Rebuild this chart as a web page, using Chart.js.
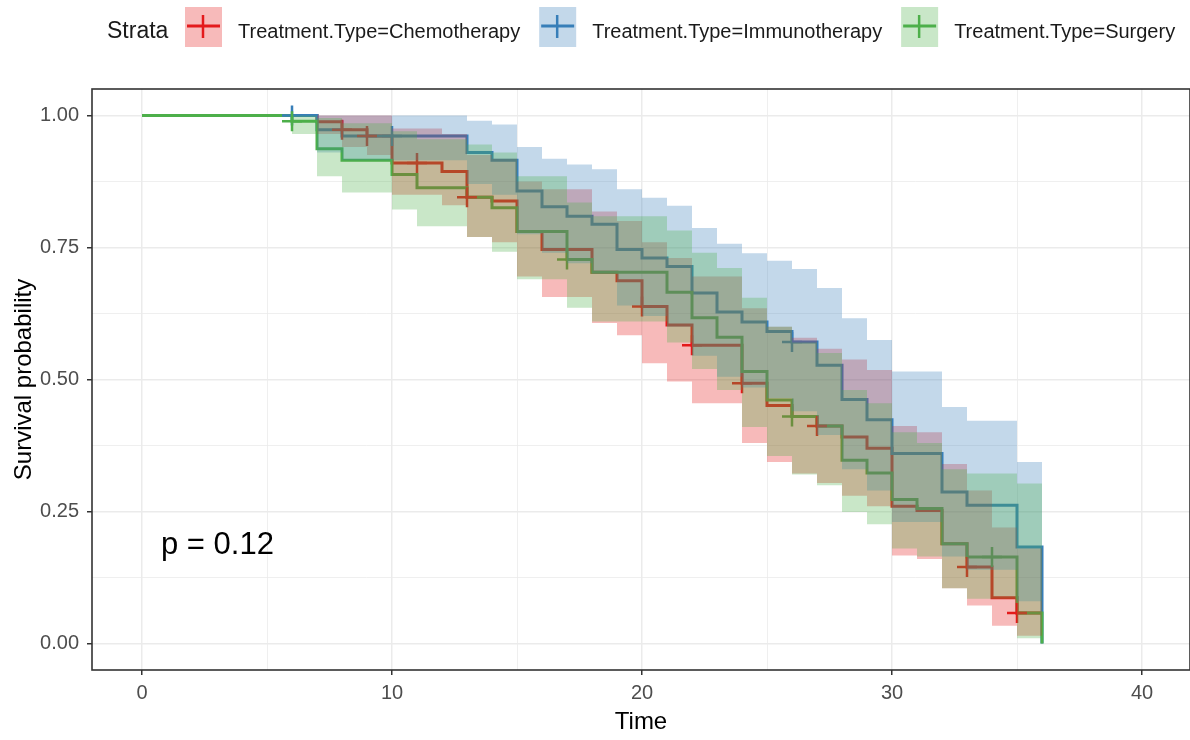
<!DOCTYPE html>
<html>
<head>
<meta charset="utf-8">
<script src="https://cdn.jsdelivr.net/npm/chart.js@4.4.1/dist/chart.umd.min.js"></script>
<style>
  html, body { margin: 0; padding: 0; background: #fff; }
  #km { display: block; }
</style>
</head>
<body>
<canvas id="km" width="1190" height="740"></canvas>
<script>
const strata = ["Treatment.Type=Chemotherapy", "Treatment.Type=Immunotherapy", "Treatment.Type=Surgery"];
const colors = ["#E41A1C", "#377EB8", "#4DAF4A"];
const xTicks = [0, 5, 10, 15, 20, 25, 30, 35, 40];
const yTicks = [0, 0.125, 0.25, 0.375, 0.5, 0.625, 0.75, 0.875, 1];
const pText = "p = 0.12";

// Chemotherapy
const chemoTime  = [0, 7, 8, 9, 10, 12, 13, 14, 15, 16, 18, 19, 20, 21, 22, 24, 25, 26, 27, 28, 29, 30, 31, 32, 33, 34, 35, 36];
const chemoSurv  = [1, .988, .973, .961, .91, .894, .845, .838, .78, .746, .703, .687, .638, .603, .565, .493, .451, .43, .412, .391, .37, .26, .252, .189, .145, .087, .058, .058];
const chemoUpper = [1, 1, 1, 1, .975, .965, .925, .918, .875, .86, .818, .80, .76, .73, .695, .635, .60, .579, .558, .538, .518, .412, .40, .34, .29, .22, .18, .18];
const chemoLower = [1, .965, .94, .925, .85, .83, .77, .76, .695, .656, .607, .584, .531, .496, .455, .38, .344, .322, .304, .28, .26, .167, .16, .105, .072, .034, .015, .015];
const chemoCensor = [8, 9, 11, 13, 20, 22, 24, 27, 33, 35];

// Immunotherapy
const immunoTime  = [0, 7, 8, 13, 14, 15, 16, 17, 18, 19, 20, 21, 22, 23, 24, 25, 26, 27, 28, 29, 30, 32, 33, 35, 36];
const immunoSurv  = [1, .973, .961, .93, .915, .857, .827, .809, .794, .746, .73, .714, .664, .628, .609, .591, .571, .527, .462, .424, .36, .287, .262, .183, 0];
const immunoUpper = [1, 1, 1, .99, .983, .94, .918, .907, .898, .86, .844, .829, .787, .757, .739, .725, .709, .673, .616, .575, .515, .448, .422, .344, .344];
const immunoLower = [1, .93, .915, .87, .85, .775, .74, .72, .70, .64, .62, .60, .545, .505, .485, .465, .44, .395, .33, .29, .23, .165, .14, .08, .08];
const immunoCensor = [6, 10, 26];

// Surgery
const surgTime  = [0, 6, 7, 8, 10, 11, 13, 14, 15, 17, 18, 21, 22, 23, 24, 25, 26, 27, 28, 29, 30, 31, 32, 33, 35, 36];
const surgSurv  = [1, .989, .937, .915, .888, .863, .845, .825, .78, .727, .703, .665, .617, .58, .515, .461, .43, .412, .347, .323, .273, .256, .189, .164, .058, 0];
const surgUpper = [1, 1, .995, .985, .97, .955, .945, .93, .885, .835, .809, .782, .74, .711, .655, .60, .57, .55, .48, .455, .40, .38, .33, .322, .303, .303];
const surgLower = [1, .965, .885, .854, .822, .79, .77, .742, .69, .636, .61, .57, .52, .48, .41, .355, .32, .30, .249, .226, .18, .165, .105, .085, .01, .01];
const surgCensor = [6, 17, 26, 34];

const groups = [
  { time: chemoTime, surv: chemoSurv, upper: chemoUpper, lower: chemoLower, censor: chemoCensor },
  { time: immunoTime, surv: immunoSurv, upper: immunoUpper, lower: immunoLower, censor: immunoCensor },
  { time: surgTime, surv: surgSurv, upper: surgUpper, lower: surgLower, censor: surgCensor },
];

const FONT = '"Liberation Sans", Arial, sans-serif';
Chart.defaults.font.family = FONT;

function alpha(hex, a) {
  const n = parseInt(hex.slice(1), 16);
  return `rgba(${n >> 16}, ${(n >> 8) & 255}, ${n & 255}, ${a})`;
}
function pts(xs, ys) {
  return xs.map((x, i) => ({ x: x, y: ys[i] }));
}
// survival value in force at time t
function survAt(g, t) {
  let v = g.surv[0];
  g.time.forEach((x, i) => { if (x <= t) v = g.surv[i]; });
  return v;
}

// draw order like ggplot: higher order is painted first, later groups on top
const datasets = [];
groups.forEach((g, i) => {
  datasets.push({
    label: strata[i], data: pts(g.time, g.surv), stepped: true,
    borderColor: colors[i], borderWidth: 3, borderCapStyle: "butt",
    pointRadius: 0, fill: false, order: 40 - i,
  });
  datasets.push({
    label: strata[i] + " censor", data: g.censor.map(t => ({ x: t, y: survAt(g, t) })),
    showLine: false, pointStyle: "cross", pointRadius: 10, pointBorderWidth: 2.5,
    pointBorderColor: colors[i], borderColor: colors[i], order: 30 - i,
  });
  datasets.push({
    label: strata[i] + " upper", data: pts(g.time, g.upper), stepped: true,
    borderWidth: 0, borderColor: "rgba(0,0,0,0)", pointRadius: 0,
    fill: "+1", backgroundColor: alpha(colors[i], 0.3), order: 20 - i,
  });
  datasets.push({
    label: strata[i] + " lower", data: pts(g.time, g.lower), stepped: true,
    borderWidth: 0, borderColor: "rgba(0,0,0,0)", pointRadius: 0,
    fill: false, order: 20 - i,
  });
});

// panel border, legend and p value
const extras = {
  id: "extras",
  afterDraw(chart) {
    const { ctx, chartArea: a } = chart;
    ctx.save();
    ctx.strokeStyle = "#333333";
    ctx.lineWidth = 1.6;
    ctx.strokeRect(a.left, a.top, a.right - a.left, a.bottom - a.top);

    ctx.textBaseline = "alphabetic";
    ctx.fillStyle = "#1a1a1a";
    ctx.font = "23px " + FONT;
    ctx.fillText("Strata", 107, 38);
    ctx.font = "20px " + FONT;
    let x = 185;
    strata.forEach((s, i) => {
      ctx.fillStyle = alpha(colors[i], 0.3);
      ctx.fillRect(x, 7, 37, 40);
      ctx.strokeStyle = colors[i];
      ctx.lineWidth = 3;
      ctx.beginPath();
      ctx.moveTo(x + 2, 26); ctx.lineTo(x + 35, 26);
      ctx.stroke();
      ctx.lineWidth = 2.5;
      ctx.beginPath();
      ctx.moveTo(x + 18, 15); ctx.lineTo(x + 18, 38);
      ctx.stroke();
      ctx.fillStyle = "#1a1a1a";
      ctx.fillText(s, x + 53, 38);
      x += 53 + ctx.measureText(s).width + 19;
    });

    const xs = chart.scales.x;
    ctx.fillStyle = "#000";
    ctx.font = "31px " + FONT;
    ctx.fillText(pText, xs.getPixelForValue(0.76), 554);
    ctx.restore();
  }
};

new Chart(document.getElementById("km"), {
  type: "line",
  data: { datasets: datasets },
  options: {
    responsive: false,
    animation: false,
    devicePixelRatio: 1,
    layout: { autoPadding: false, padding: { top: 89, right: 0, left: 0, bottom: 0 } },
    plugins: { legend: { display: false }, tooltip: { enabled: false } },
    scales: {
      x: {
        type: "linear", min: -2, max: 41.92,
        afterBuildTicks: s => { s.ticks = xTicks.map(v => ({ value: v })); },
        afterFit: s => { s.height = 70; s.paddingLeft = 0; s.paddingRight = 0; },
        border: { display: false },
        grid: {
          color: "#ebebeb",
          lineWidth: c => (c.tick && c.tick.value % 10 === 0 ? 1.5 : 0.8),
          tickLength: 5,
          tickWidth: 1.5,
          tickColor: c => (c.tick && c.tick.value % 10 === 0 ? "#333333" : "rgba(0,0,0,0)"),
        },
        ticks: {
          autoSkip: false, maxRotation: 0, padding: 6, color: "#4d4d4d",
          font: { size: 20 },
          callback: v => (v % 10 === 0 ? String(v) : ""),
        },
        title: { display: true, text: "Time", color: "#000", font: { size: 24 }, padding: { top: 0, bottom: 3 } },
      },
      y: {
        type: "linear", min: -0.05, max: 1.05,
        afterBuildTicks: s => { s.ticks = yTicks.map(v => ({ value: v })); },
        afterFit: s => { s.width = 92; s.paddingTop = 0; s.paddingBottom = 0; },
        border: { display: false },
        grid: {
          color: "#ebebeb",
          lineWidth: c => (c.tick && Math.round(c.tick.value * 8) % 2 === 0 ? 1.5 : 0.8),
          tickLength: 5,
          tickWidth: 1.5,
          tickColor: c => (c.tick && Math.round(c.tick.value * 8) % 2 === 0 ? "#333333" : "rgba(0,0,0,0)"),
        },
        ticks: {
          autoSkip: false, padding: 8, color: "#4d4d4d",
          font: { size: 20 },
          callback: v => (Math.round(v * 8) % 2 === 0 ? v.toFixed(2) : ""),
        },
        title: { display: true, text: "Survival probability", color: "#000", font: { size: 24 }, padding: { top: 10, bottom: 0 } },
      },
    },
  },
  plugins: [extras],
});
</script>
</body>
</html>
